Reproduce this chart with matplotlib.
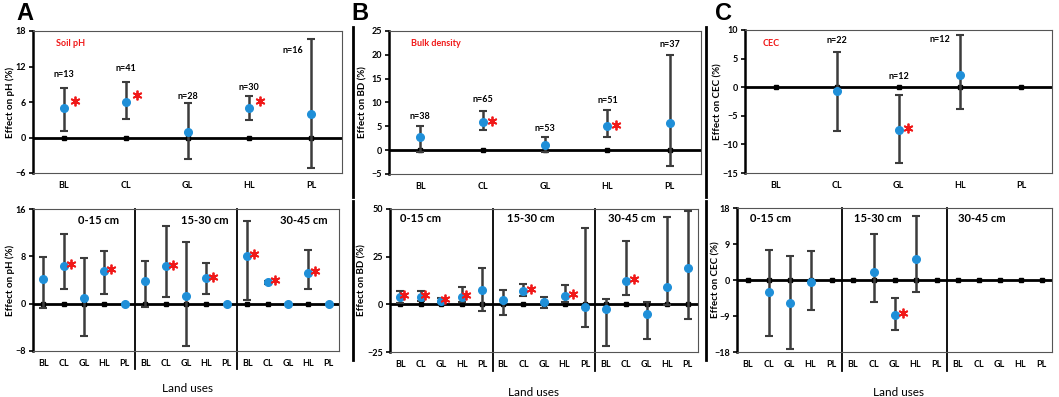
import numpy as np
import matplotlib.pyplot as plt
from matplotlib.transforms import offset_copy

plt.rcParams['font.family'] = ['Lato', 'DejaVu Sans']

land_uses = ['BL', 'CL', 'GL', 'HL', 'PL']
depths = ['0-15 cm', '15-30 cm', '30-45 cm']

# A: soil pH, whole profile
ph_mean = [5.0, 6.0, 1.0, 5.0, 4.0]
ph_lo = [1.1, 3.1, -3.6, 2.9, -5.1]
ph_hi = [8.3, 9.3, 5.9, 7.0, 16.6]
ph_n = [13, 41, 28, 30, 16]
ph_sig = [1, 1, 0, 1, 0]

# A: soil pH by depth (BL..PL for 0-15, 15-30, 30-45 cm)
ph_d_mean = [4.2, 6.4, 0.9, 5.6, 0.0, 3.8, 6.3, 1.3, 4.3, 0.0, 8.1, 3.7, 0.0, 5.2, 0.0]
ph_d_lo = [-0.8, 2.4, -5.5, 1.6, 0.0, -0.5, 1.2, -7.2, 1.7, 0.0, 0.7, 3.3, 0.0, 2.5, 0.0]
ph_d_hi = [7.9, 11.7, 7.7, 8.9, 0.0, 7.2, 13.1, 10.5, 6.9, 0.0, 14.0, 3.9, 0.0, 9.0, 0.0]
ph_d_sig = [0, 1, 0, 1, 0, 0, 1, 0, 1, 0, 1, 1, 0, 1, 0]

# B: bulk density, whole profile
bd_mean = [2.8, 5.9, 1.0, 5.0, 5.7]
bd_lo = [-0.3, 4.3, -0.4, 2.7, -3.4]
bd_hi = [5.1, 8.2, 2.7, 8.4, 19.9]
bd_n = [38, 65, 53, 51, 37]
bd_sig = [0, 1, 0, 1, 0]

# B: bulk density by depth
bd_d_mean = [4.0, 4.0, 1.8, 4.0, 7.5, 2.5, 7.0, 1.0, 4.6, -1.4, -2.6, 12.3, -5.1, 9.3, 18.9]
bd_d_lo = [0.5, 1.8, 0.5, 1.0, -3.5, -5.8, 4.4, -1.8, 1.4, -11.7, -21.9, 4.9, -18.2, -0.4, -7.7]
bd_d_hi = [7.2, 7.0, 3.5, 8.9, 19.1, 7.5, 10.9, 3.8, 10.2, 39.8, 2.8, 33.4, 1.2, 46.0, 49.0]
bd_d_sig = [1, 1, 1, 1, 0, 0, 1, 0, 1, 0, 0, 1, 0, 0, 0]

# C: CEC, whole profile (nan = no data)
cec_mean = [np.nan, -0.6, -7.4, 2.2, np.nan]
cec_lo = [np.nan, -7.6, -13.2, -3.8, np.nan]
cec_hi = [np.nan, 6.2, -1.3, 9.1, np.nan]
cec_n = [None, 22, 12, 12, None]
cec_sig = [0, 0, 1, 0, 0]

# C: CEC by depth
nan = np.nan
cec_d_mean = [nan, -3.0, -5.8, -0.6, nan, nan, 2.1, -8.7, 5.2, nan, nan, nan, nan, nan, nan]
cec_d_lo = [nan, -13.9, -17.2, -7.6, nan, nan, -5.5, -12.4, -3.0, nan, nan, nan, nan, nan, nan]
cec_d_hi = [nan, 7.5, 5.9, 7.2, nan, nan, 11.5, -4.6, 15.9, nan, nan, nan, nan, nan, nan]
cec_d_sig = [0, 0, 0, 0, 0, 0, 0, 1, 0, 0, 0, 0, 0, 0, 0]

# where the n= labels sit (data y) and their sideways shift (in category units)
ph_nlab_y = [10.6, 11.6, 7.0, 8.5, 14.7]
ph_nlab_dx = [0, 0, 0, 0, -0.3]
bd_nlab_y = [7.1, 10.6, 4.6, 10.4, 22.2]
bd_nlab_dx = [0, 0, 0, 0, 0]
cec_nlab_y = [0, 8.2, 1.9, 8.4, 0]
cec_nlab_dx = [0, 0, 0, -0.33, 0]

W, H = 1059, 397
pt_col = '#1f8fd8'
bar_col = '#3c3c3c'

fig = plt.figure(figsize=(W / 100, H / 100), dpi=100)


def add_ax(x0, y0, x1, y1):
    return fig.add_axes([x0 / W, 1 - y1 / H, (x1 - x0) / W, (y1 - y0) / H])


def ftext(xp, yp, s, **kw):
    fig.text(xp / W, 1 - yp / H, s, ha='center', va='center', **kw)


def draw(ax, mean, lo, hi, sig, ylim, yticks, star_dx=8, star_dy=1.5):
    mean, lo, hi = np.array(mean, float), np.array(lo, float), np.array(hi, float)
    x = np.arange(len(mean))
    ax.axhline(0, color='black', lw=2, zorder=2)
    ax.plot(x, np.zeros(len(x)), ls='none', marker='s', ms=2.6, color='black', zorder=3)
    ok = ~np.isnan(mean)
    ax.errorbar(x[ok], mean[ok], yerr=[mean[ok] - lo[ok], hi[ok] - mean[ok]],
                fmt='o', color=pt_col, ms=5.5, ecolor=bar_col, elinewidth=1.8,
                capsize=3, capthick=1.5, zorder=4)
    dxs = star_dx if np.iterable(star_dx) else [star_dx] * len(mean)
    for i in range(len(mean)):
        if sig[i]:
            tr = offset_copy(ax.transData, fig=fig, x=dxs[i], y=star_dy, units='dots')
            ax.plot(x[i], mean[i], marker=(6, 2, 0), ms=7, mew=1.3, color='#f01818',
                    transform=tr, zorder=5)
    ax.set_xlim(-0.5, len(mean) - 0.5)
    ax.set_ylim(*ylim)
    ax.set_yticks(yticks)
    ax.set_xticks(x)
    ax.set_xticklabels(land_uses * (len(mean) // 5), fontsize=6.5, fontweight='bold')
    ax.tick_params(axis='x', length=0, pad=6)
    ax.tick_params(axis='y', direction='out', length=3, width=1.2, labelsize=6.5, pad=2)
    for lab in ax.get_yticklabels():
        lab.set_fontweight('bold')
    for s in ['top', 'right', 'bottom']:
        ax.spines[s].set_linewidth(0.8)
        ax.spines[s].set_color('#555555')
    ax.spines['left'].set_linewidth(1.8)
    ax.spines['left'].set_color('black')
    if len(mean) > 5:
        for sx in [4.5, 9.5]:
            ax.axvline(sx, ymin=-0.13, ymax=1, color='black', lw=1.3, clip_on=False)


def nlabels(ax, n, ys, dxs):
    for i, v in enumerate(n):
        if v is not None:
            ax.text(i + dxs[i], ys[i], 'n=%d' % v, ha='center', va='center',
                    fontsize=6.5, fontweight='bold')


# panel A
ax = add_ax(33, 31, 342, 173)
draw(ax, ph_mean, ph_lo, ph_hi, ph_sig, (-6, 18), [-6, 0, 6, 12, 18], star_dx=11, star_dy=7)
nlabels(ax, ph_n, ph_nlab_y, ph_nlab_dx)
ax = add_ax(33, 209, 339, 351)
draw(ax, ph_d_mean, ph_d_lo, ph_d_hi, ph_d_sig, (-8, 16), [-8, 0, 8, 16], star_dx=7)

# panel B
ax = add_ax(389, 31, 701, 174)
draw(ax, bd_mean, bd_lo, bd_hi, bd_sig, (-5, 25), [-5, 0, 5, 10, 15, 20, 25], star_dx=9, star_dy=1)
nlabels(ax, bd_n, bd_nlab_y, bd_nlab_dx)
ax = add_ax(390, 209, 698, 352)
draw(ax, bd_d_mean, bd_d_lo, bd_d_hi, bd_d_sig, (-25, 50), [-25, 0, 25, 50],
     star_dx=[4] * 5 + [8] * 10)

# panel C
ax = add_ax(745, 30, 1052, 173)
draw(ax, cec_mean, cec_lo, cec_hi, cec_sig, (-15, 10), [-15, -10, -5, 0, 5, 10], star_dx=9, star_dy=2)
nlabels(ax, cec_n, cec_nlab_y, cec_nlab_dx)
ax = add_ax(737, 208, 1052, 352)
draw(ax, cec_d_mean, cec_d_lo, cec_d_hi, cec_d_sig, (-18, 18), [-18, -9, 0, 9, 18], star_dx=8)

# panel letters, titles and axis labels
for xp, s in [(25, 'A'), (360, 'B'), (723, 'C')]:
    ftext(xp, 13, s, fontsize=17, fontweight='bold', family='Liberation Sans')
for xp, s in [(71, 'Soil pH'), (436, 'Bulk density'), (771, 'CEC')]:
    ftext(xp, 43, s, fontsize=6.5, fontweight='bold', color='#f01818')
for xp, yp, s in [(10, 102, 'Effect on pH (%)'), (10, 280, 'Effect on pH (%)'),
                  (363, 102, 'Effect on BD (%)'), (362, 280, 'Effect on BD (%)'),
                  (718, 102, 'Effect on CEC (%)'), (716, 280, 'Effect on CEC (%)')]:
    ftext(xp, yp, s, fontsize=7, fontweight='bold', rotation=90)
for xp, yp in [(187, 389), (534, 392), (898, 392)]:
    ftext(xp, yp, 'Land uses', fontsize=8.5)
for xs, yp in [((99, 205, 304), 221), ((421, 531, 632), 219), ((771, 878, 982), 219)]:
    for xp, s in zip(xs, depths):
        ftext(xp, yp, s, fontsize=8, fontweight='bold')

# vertical dividers between the panels
for xp in [353, 706]:
    for y0, y1 in [(27, 197), (201, 360)]:
        fig.add_artist(plt.Line2D([xp / W, xp / W], [1 - y0 / H, 1 - y1 / H], color='black', lw=2))

fig.savefig('out.png', dpi=100)
